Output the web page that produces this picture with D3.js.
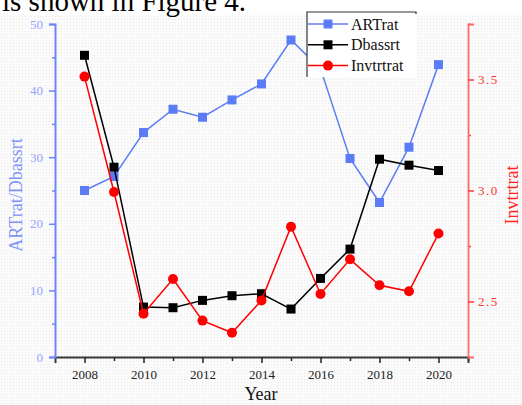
<!DOCTYPE html>
<html>
<head>
<meta charset="utf-8">
<script src="https://cdn.jsdelivr.net/npm/d3@7"></script>
<style>
  html, body { margin: 0; padding: 0; background: #fff; }
  svg { display: block; }
</style>
</head>
<body>
<svg id="chart" width="522" height="405"></svg>
<script>
// Yearly ratios, 2008-2020
const years = [2008, 2009, 2010, 2011, 2012, 2013, 2014, 2015, 2016, 2017, 2018, 2019, 2020];
const artrat = [25.0, 27.1, 33.7, 37.2, 36.0, 38.6, 41.0, 47.6, 43.3, 29.8, 23.2, 31.5, 43.9];
const dbassrt = [45.3, 28.5, 7.5, 7.4, 8.5, 9.2, 9.5, 7.2, 11.8, 16.2, 29.7, 28.8, 28.0];
const invtrtrat = [3.513, 2.993, 2.445, 2.601, 2.414, 2.359, 2.505, 2.837, 2.534, 2.690, 2.573, 2.546, 2.806];

const xTicks = [2008, 2010, 2012, 2014, 2016, 2018, 2020];
const leftTicks = [0, 10, 20, 30, 40, 50];
const rightTicks = [2.5, 3.0, 3.5];

const seriesNames = ["ARTrat", "Dbassrt", "Invtrtrat"];

const BLUE = "#5b7cf6", BLACK = "#000", RED = "#ff0000";
const serif = "'Liberation Serif', 'Times New Roman', serif";

const svg = d3.select("#chart");

// light speckled page background
const defs = svg.append("defs");
const pat = defs.append("pattern").attr("id", "speckle")
  .attr("width", 3).attr("height", 3).attr("patternUnits", "userSpaceOnUse");
pat.append("rect").attr("width", 3).attr("height", 3).attr("fill", "#fbfbfb");
pat.append("rect").attr("x", 1).attr("y", 1).attr("width", 1).attr("height", 1).attr("fill", "#e9e9e9");
svg.append("rect").attr("x", 0).attr("y", 15).attr("width", 522).attr("height", 390).attr("fill", "url(#speckle)");

// running text above the figure
svg.append("text").attr("x", 2).attr("y", 11)
  .attr("font-family", serif).attr("font-size", 29).attr("fill", "#000")
  .text("is shown in Figure 4.");

const x = d3.scaleLinear().domain([2007, 2021]).range([55, 468]);
const yL = d3.scaleLinear().domain([0, 50]).range([357, 24]);
const yR = d3.scaleLinear().domain([2.25, 3.75]).range([357, 24]);

// x axis
const gx = svg.append("g").attr("transform", "translate(0,357)");
gx.call(d3.axisBottom(x).tickValues(d3.range(2009, 2022, 2)).tickSize(4).tickFormat(""));
gx.call(g => g.select(".domain").remove());
const gx2 = svg.append("g").attr("transform", "translate(0,357)");
gx2.call(d3.axisBottom(x).tickValues(xTicks).tickSize(6).tickPadding(7).tickFormat(d3.format("d")));
gx2.select(".domain").attr("stroke", "#3a3a3a").attr("stroke-width", 2);
svg.selectAll("g line").attr("stroke", "#222").attr("stroke-width", 1.5);
gx2.selectAll("text").attr("font-family", serif).attr("font-size", 13).attr("fill", "#222");

// left axis
const gl = svg.append("g").attr("transform", "translate(55,0)");
gl.call(d3.axisLeft(yL).tickValues(d3.range(5, 50, 10)).tickSize(3).tickFormat(""));
gl.select(".domain").remove();
const gl2 = svg.append("g").attr("transform", "translate(55,0)");
gl2.call(d3.axisLeft(yL).tickValues(leftTicks).tickSize(6).tickPadding(6).tickFormat(d3.format("d")));
gl2.select(".domain").attr("stroke", "#6b84f7").attr("stroke-width", 2);
[gl, gl2].forEach(g => g.selectAll("line").attr("stroke", "#6b84f7").attr("stroke-width", 1.5));
gl2.selectAll("text").attr("font-family", serif).attr("font-size", 13).attr("fill", "#96a6fb");

// right axis
const gr = svg.append("g").attr("transform", "translate(468,0)");
gr.call(d3.axisRight(yR).tickValues([2.75, 3.25, 3.75]).tickSize(3).tickFormat(""));
gr.select(".domain").remove();
const gr2 = svg.append("g").attr("transform", "translate(468,0)");
gr2.call(d3.axisRight(yR).tickValues(rightTicks).tickSize(6).tickPadding(4).tickFormat(d3.format(".1f")));
gr2.select(".domain").attr("stroke", "#ff6a6a").attr("stroke-width", 1.8);
[gr, gr2].forEach(g => g.selectAll("line").attr("stroke", "#ff3b3b").attr("stroke-width", 1.5));
gr2.selectAll("text").attr("font-family", serif).attr("font-size", 13).attr("fill", "#ff3333")
  .attr("letter-spacing", "1.5px");

// axis titles
svg.append("text").attr("transform", "translate(22,195) rotate(-90)")
  .attr("text-anchor", "middle").attr("font-family", serif).attr("font-size", 18)
  .attr("fill", "#7d93f8").text("ARTrat/Dbassrt");
svg.append("text").attr("transform", "translate(518,195) rotate(-90)")
  .attr("text-anchor", "middle").attr("font-family", serif).attr("font-size", 18)
  .attr("fill", "#ff2020").text("Invtrtrat");
svg.append("text").attr("x", 261).attr("y", 400)
  .attr("text-anchor", "middle").attr("font-family", serif).attr("font-size", 18)
  .attr("fill", "#111").text("Year");

// series
const series = [
  { name: seriesNames[0], values: artrat, y: yL, color: BLUE, shape: "square" },
  { name: seriesNames[1], values: dbassrt, y: yL, color: BLACK, shape: "square" },
  { name: seriesNames[2], values: invtrtrat, y: yR, color: RED, shape: "circle" }
];

function marker(g, shape, color, cx, cy) {
  if (shape === "square") {
    g.append("rect").attr("x", cx - 4.5).attr("y", cy - 4.5).attr("width", 9).attr("height", 9).attr("fill", color);
  } else {
    g.append("circle").attr("cx", cx).attr("cy", cy).attr("r", 5).attr("fill", color);
  }
}

series.forEach(s => {
  const pts = years.map((yr, i) => [x(yr), s.y(s.values[i])]);
  const g = svg.append("g");
  g.append("path").attr("d", d3.line()(pts)).attr("fill", "none")
    .attr("stroke", s.color).attr("stroke-width", 1.5);
  pts.forEach(p => marker(g, s.shape, s.color, p[0], p[1]));
});

// legend
const lg = svg.append("g");
lg.append("rect").attr("x", 307).attr("y", 12).attr("width", 109).attr("height", 65).attr("fill", "#fff");
lg.append("path").attr("d", "M307,77V12H416V14").attr("fill", "none").attr("stroke", "#333").attr("stroke-width", 1.2);
series.forEach((s, i) => {
  const cy = 24 + i * 20.8;
  lg.append("line").attr("x1", 308).attr("x2", 348).attr("y1", cy).attr("y2", cy)
    .attr("stroke", s.color).attr("stroke-width", 1.5);
  marker(lg, s.shape, s.color, 328, cy);
  lg.append("text").attr("x", 351).attr("y", cy + 5.5).attr("font-family", serif)
    .attr("font-size", 16).attr("fill", "#111").text(s.name);
});
</script>
</body>
</html>
